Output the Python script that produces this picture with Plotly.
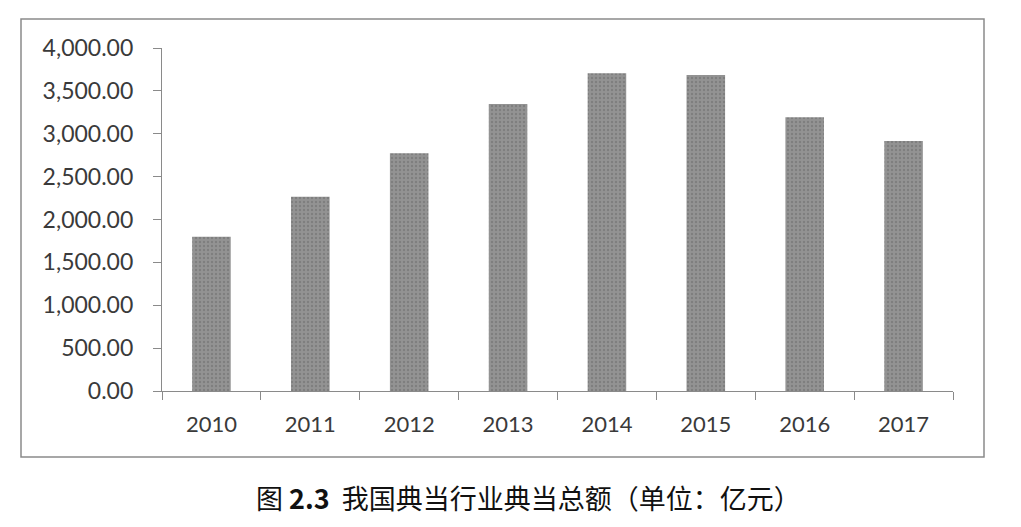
import plotly.graph_objects as go

years = ["2010", "2011", "2012", "2013", "2014", "2015", "2016", "2017"]
values = [1800, 2266, 2772, 3347, 3705, 3685, 3192, 2915]
y_ticks = [0, 500, 1000, 1500, 2000, 2500, 3000, 3500, 4000]
caption = "图 <b>2.3</b>  我国典当行业典当总额（单位：亿元）"

OFF = 8  # page body margin
W, H = 1021 - OFF, 527 - OFF
L, R, T, B = 162 - OFF, 953 - OFF, 48 - OFF, 391 - OFF

fig = go.Figure(go.Bar(
    x=years, y=values,
    marker=dict(color="#8a8a8a", line=dict(width=0),
                pattern=dict(shape=".", fgcolor="#6a6a6a", bgcolor="#939393", size=4, solidity=0.3)),
    width=0.39,
))

x_font = dict(family="Lato, 'Open Sans', sans-serif", size=22, color="#3a3a3a")
y_font = dict(family="Lato, 'Open Sans', sans-serif", size=23, color="#3a3a3a")

fig.update_layout(
    width=W, height=H,
    margin=dict(l=L, r=W - R, t=T, b=H - B, pad=0),
    paper_bgcolor="white", plot_bgcolor="white",
    showlegend=False,
    bargap=0.61,
    xaxis=dict(
        type="category", tickson="boundaries", ticks="outside", ticklen=8,
        tickcolor="#8a8a8a", showline=True, linecolor="#8a8a8a", linewidth=1.2,
        showgrid=False, tickfont=x_font, ticklabelstandoff=13,
    ),
    yaxis=dict(
        range=[0, 4000], tickvals=y_ticks, tickformat=",.2f", ticks="outside",
        ticklen=8, tickcolor="#8a8a8a", showline=True, linecolor="#8a8a8a",
        linewidth=1.2, showgrid=False, zeroline=False, tickfont=y_font,
        ticklabelstandoff=15,
    ),
    font=dict(family="Lato, 'Noto Sans CJK SC', sans-serif"),
)

pw, ph = R - L, B - T
def px(x):
    return (x - OFF - L) / pw
def py(y):
    return (B - (y - OFF)) / ph

fig.add_shape(type="rect", xref="paper", yref="paper",
              x0=px(21), x1=px(984), y0=py(457), y1=py(19),
              line=dict(color="#8a8a8a", width=1.5), fillcolor="rgba(0,0,0,0)")

fig.add_annotation(xref="paper", yref="paper", x=px(528), y=py(498),
                   text=caption, showarrow=False, xanchor="center", yanchor="middle",
                   font=dict(family="'Noto Sans CJK SC', 'Liberation Serif', serif", size=27, color="#111111"))

fig.write_html("out.html")
